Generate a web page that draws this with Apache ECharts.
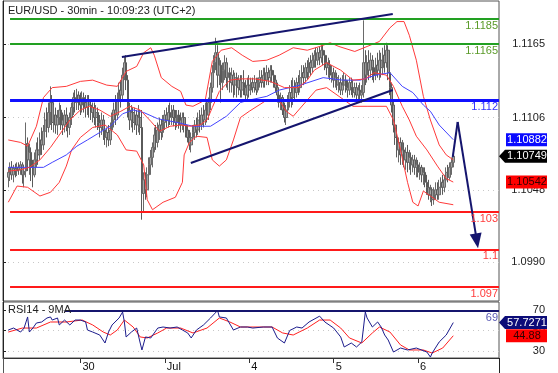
<!DOCTYPE html>
<html><head><meta charset="utf-8">
<script src="https://cdn.jsdelivr.net/npm/echarts@6/dist/echarts.min.js"></script>
<style>html,body{margin:0;padding:0;background:#fff}#c{width:558px;height:373px}</style>
</head><body><div id="c"></div>
<script>
// ---------- DATA ----------
const firstBar = 3; // bar index of first candle (30-min bars)
// candles: [open, close, low, high]
const candles = [
[1.1058,1.1062,1.1050,1.1066],[1.1062,1.1066,1.1055,1.1070],[1.1066,1.1060,1.1056,1.1071],[1.1060,1.1065,1.1054,1.1068],
[1.1065,1.1063,1.1058,1.1069],[1.1063,1.1066,1.1059,1.1070],[1.1066,1.1064,1.1060,1.1070],[1.1064,1.1068,1.1060,1.1071],
[1.1068,1.1060,1.1053,1.1070],[1.1060,1.1063,1.1050,1.1066],[1.1063,1.1085,1.1058,1.1102],[1.1085,1.1072,1.1063,1.1090],
[1.1072,1.1078,1.1060,1.1085],[1.1078,1.1066,1.1055,1.1082],[1.1066,1.1060,1.1050,1.1072],[1.1060,1.1072,1.1058,1.1078],
[1.1072,1.1080,1.1066,1.1086],[1.1080,1.1076,1.1068,1.1090],[1.1076,1.1088,1.1072,1.1094],[1.1088,1.1084,1.1076,1.1098],
[1.1084,1.1095,1.1080,1.1100],[1.1095,1.1104,1.1088,1.1110],[1.1104,1.1098,1.1090,1.1114],[1.1098,1.1110,1.1094,1.1118],
[1.1110,1.1118,1.1100,1.1131],[1.1118,1.1102,1.1096,1.1124],[1.1102,1.1108,1.1094,1.1116],[1.1108,1.1100,1.1093,1.1114],
[1.1100,1.1106,1.1092,1.1112],[1.1106,1.1112,1.1100,1.1118],[1.1112,1.1104,1.1096,1.1116],[1.1104,1.1100,1.1092,1.1110],
[1.1100,1.1108,1.1094,1.1112],[1.1108,1.1102,1.1095,1.1114],[1.1102,1.1098,1.1090,1.1108],[1.1098,1.1106,1.1092,1.1110],
[1.1106,1.1114,1.1100,1.1118],[1.1114,1.1122,1.1108,1.1126],[1.1122,1.1118,1.1110,1.1128],[1.1118,1.1124,1.1112,1.1129],
[1.1124,1.1120,1.1112,1.1127],[1.1120,1.1116,1.1108,1.1126],[1.1116,1.1122,1.1110,1.1127],[1.1122,1.1118,1.1110,1.1126],
[1.1118,1.1114,1.1106,1.1124],[1.1114,1.1120,1.1108,1.1124],[1.1120,1.1116,1.1106,1.1124],[1.1116,1.1110,1.1104,1.1120],
[1.1110,1.1114,1.1102,1.1118],[1.1114,1.1106,1.1100,1.1118],[1.1106,1.1110,1.1098,1.1116],[1.1110,1.1102,1.1096,1.1114],
[1.1102,1.1098,1.1090,1.1108],[1.1098,1.1104,1.1092,1.1110],[1.1104,1.1096,1.1088,1.1108],[1.1096,1.1090,1.1084,1.1100],
[1.1090,1.1094,1.1082,1.1098],[1.1094,1.1088,1.1083,1.1100],[1.1088,1.1096,1.1084,1.1102],[1.1096,1.1104,1.1090,1.1110],
[1.1104,1.1112,1.1098,1.1118],[1.1112,1.1108,1.1100,1.1124],[1.1108,1.1120,1.1104,1.1126],[1.1120,1.1128,1.1112,1.1134],
[1.1128,1.1124,1.1114,1.1136],[1.1124,1.1140,1.1120,1.1146],[1.1140,1.1150,1.1136,1.1155],[1.1150,1.1136,1.1128,1.1156],
[1.1136,1.1112,1.1106,1.1140],[1.1112,1.1104,1.1096,1.1118],[1.1104,1.1110,1.1098,1.1116],[1.1110,1.1102,1.1094,1.1114],
[1.1102,1.1108,1.1096,1.1114],[1.1108,1.1100,1.1092,1.1112],[1.1100,1.1106,1.1094,1.1116],[1.1106,1.1098,1.1092,1.1112],
[1.1098,1.1045,1.1024,1.1112],[1.1045,1.1056,1.1030,1.1062],[1.1056,1.1048,1.1040,1.1062],[1.1048,1.1060,1.1042,1.1066],
[1.1060,1.1068,1.1050,1.1074],[1.1068,1.1074,1.1060,1.1080],[1.1074,1.1082,1.1066,1.1086],[1.1082,1.1092,1.1078,1.1098],
[1.1092,1.1086,1.1080,1.1100],[1.1086,1.1096,1.1082,1.1102],[1.1096,1.1100,1.1088,1.1106],[1.1100,1.1094,1.1088,1.1104],
[1.1094,1.1102,1.1090,1.1108],[1.1102,1.1108,1.1096,1.1112],[1.1108,1.1104,1.1098,1.1114],[1.1104,1.1110,1.1098,1.1116],
[1.1110,1.1106,1.1100,1.1118],[1.1106,1.1112,1.1100,1.1116],[1.1112,1.1106,1.1099,1.1116],[1.1106,1.1102,1.1096,1.1112],
[1.1102,1.1108,1.1098,1.1112],[1.1108,1.1104,1.1097,1.1112],[1.1104,1.1100,1.1094,1.1110],[1.1100,1.1106,1.1096,1.1110],
[1.1106,1.1100,1.1094,1.1110],[1.1100,1.1096,1.1090,1.1104],[1.1096,1.1090,1.1086,1.1100],[1.1090,1.1084,1.1080,1.1096],
[1.1084,1.1090,1.1078,1.1094],[1.1090,1.1094,1.1084,1.1100],[1.1094,1.1100,1.1088,1.1104],[1.1100,1.1096,1.1090,1.1106],
[1.1096,1.1104,1.1092,1.1110],[1.1104,1.1100,1.1094,1.1112],[1.1100,1.1108,1.1096,1.1114],[1.1108,1.1104,1.1098,1.1116],
[1.1104,1.1112,1.1100,1.1118],[1.1112,1.1108,1.1102,1.1120],[1.1108,1.1118,1.1104,1.1122],[1.1118,1.1130,1.1112,1.1134],
[1.1130,1.1142,1.1126,1.1148],[1.1142,1.1150,1.1136,1.1156],[1.1150,1.1158,1.1144,1.1170],[1.1158,1.1140,1.1130,1.1164],
[1.1140,1.1148,1.1132,1.1154],[1.1148,1.1134,1.1118,1.1152],[1.1134,1.1144,1.1128,1.1150],[1.1144,1.1150,1.1136,1.1156],
[1.1150,1.1138,1.1130,1.1154],[1.1138,1.1142,1.1128,1.1148],[1.1142,1.1134,1.1126,1.1146],[1.1134,1.1140,1.1126,1.1146],
[1.1140,1.1132,1.1122,1.1144],[1.1132,1.1138,1.1124,1.1142],[1.1138,1.1130,1.1122,1.1142],[1.1130,1.1136,1.1124,1.1140],
[1.1136,1.1128,1.1122,1.1140],[1.1128,1.1134,1.1122,1.1140],[1.1134,1.1130,1.1124,1.1144],[1.1130,1.1124,1.1120,1.1136],
[1.1124,1.1132,1.1120,1.1138],[1.1132,1.1128,1.1122,1.1140],[1.1128,1.1134,1.1124,1.1138],[1.1134,1.1130,1.1126,1.1138],
[1.1130,1.1134,1.1126,1.1140],[1.1134,1.1128,1.1124,1.1138],[1.1128,1.1134,1.1126,1.1138],[1.1134,1.1138,1.1130,1.1144],
[1.1138,1.1134,1.1130,1.1144],[1.1134,1.1140,1.1130,1.1146],[1.1140,1.1136,1.1130,1.1146],[1.1136,1.1142,1.1132,1.1148],
[1.1142,1.1138,1.1132,1.1146],[1.1138,1.1144,1.1134,1.1148],[1.1144,1.1140,1.1134,1.1148],[1.1140,1.1136,1.1130,1.1144],
[1.1136,1.1130,1.1126,1.1140],[1.1130,1.1124,1.1118,1.1134],[1.1124,1.1118,1.1114,1.1128],[1.1118,1.1122,1.1112,1.1126],
[1.1122,1.1112,1.1108,1.1124],[1.1112,1.1106,1.1102,1.1118],[1.1106,1.1112,1.1100,1.1116],[1.1112,1.1120,1.1106,1.1124],
[1.1120,1.1126,1.1114,1.1132],[1.1126,1.1122,1.1114,1.1136],[1.1122,1.1130,1.1116,1.1138],[1.1130,1.1126,1.1120,1.1136],
[1.1126,1.1134,1.1122,1.1138],[1.1134,1.1130,1.1124,1.1140],[1.1130,1.1138,1.1126,1.1144],[1.1138,1.1142,1.1132,1.1148],
[1.1142,1.1138,1.1132,1.1148],[1.1138,1.1146,1.1134,1.1150],[1.1146,1.1142,1.1136,1.1152],[1.1142,1.1150,1.1138,1.1154],
[1.1150,1.1146,1.1140,1.1156],[1.1146,1.1152,1.1142,1.1158],[1.1152,1.1156,1.1146,1.1160],[1.1156,1.1152,1.1146,1.1162],
[1.1152,1.1158,1.1148,1.1162],[1.1158,1.1154,1.1148,1.1163],[1.1154,1.1160,1.1150,1.1164],[1.1160,1.1156,1.1148,1.1165],
[1.1156,1.1150,1.1144,1.1160],[1.1150,1.1146,1.1140,1.1156],[1.1146,1.1148,1.1138,1.1154],[1.1148,1.1140,1.1136,1.1152],
[1.1140,1.1142,1.1134,1.1148],[1.1142,1.1136,1.1130,1.1146],[1.1136,1.1138,1.1130,1.1144],[1.1138,1.1132,1.1128,1.1142],
[1.1132,1.1134,1.1126,1.1140],[1.1134,1.1128,1.1124,1.1138],[1.1128,1.1132,1.1124,1.1140],[1.1132,1.1136,1.1128,1.1142],
[1.1136,1.1130,1.1126,1.1140],[1.1130,1.1128,1.1122,1.1136],[1.1128,1.1134,1.1124,1.1138],[1.1134,1.1130,1.1124,1.1138],
[1.1130,1.1126,1.1122,1.1136],[1.1126,1.1130,1.1122,1.1134],[1.1130,1.1124,1.1120,1.1134],[1.1124,1.1128,1.1120,1.1132],
[1.1128,1.1124,1.1120,1.1134],[1.1124,1.1126,1.1118,1.1132],[1.1126,1.1150,1.1122,1.1184],[1.1150,1.1140,1.1132,1.1160],
[1.1140,1.1150,1.1134,1.1156],[1.1150,1.1144,1.1136,1.1160],[1.1144,1.1152,1.1138,1.1158],[1.1152,1.1146,1.1136,1.1156],
[1.1146,1.1140,1.1134,1.1152],[1.1140,1.1148,1.1136,1.1154],[1.1148,1.1144,1.1138,1.1158],[1.1144,1.1152,1.1136,1.1160],
[1.1152,1.1146,1.1138,1.1158],[1.1146,1.1156,1.1140,1.1162],[1.1156,1.1150,1.1142,1.1164],[1.1150,1.1160,1.1146,1.1166],
[1.1160,1.1142,1.1136,1.1164],[1.1142,1.1130,1.1124,1.1146],[1.1130,1.1116,1.1110,1.1134],[1.1116,1.1100,1.1094,1.1120],
[1.1100,1.1090,1.1084,1.1106],[1.1090,1.1080,1.1074,1.1094],[1.1080,1.1086,1.1070,1.1090],[1.1086,1.1076,1.1068,1.1090],
[1.1076,1.1080,1.1068,1.1088],[1.1080,1.1072,1.1066,1.1086],[1.1072,1.1078,1.1064,1.1082],[1.1078,1.1070,1.1062,1.1084],
[1.1070,1.1074,1.1064,1.1080],[1.1074,1.1068,1.1060,1.1078],[1.1068,1.1072,1.1062,1.1076],[1.1072,1.1066,1.1060,1.1076],
[1.1066,1.1068,1.1058,1.1074],[1.1068,1.1062,1.1058,1.1072],[1.1062,1.1066,1.1056,1.1070],[1.1066,1.1060,1.1054,1.1068],
[1.1060,1.1062,1.1052,1.1066],[1.1062,1.1054,1.1050,1.1066],[1.1054,1.1050,1.1044,1.1060],[1.1050,1.1044,1.1040,1.1056],
[1.1044,1.1048,1.1038,1.1052],[1.1048,1.1040,1.1035,1.1050],[1.1040,1.1044,1.1036,1.1050],[1.1044,1.1048,1.1040,1.1054],
[1.1048,1.1044,1.1040,1.1054],[1.1044,1.1050,1.1040,1.1056],[1.1050,1.1054,1.1044,1.1058],[1.1054,1.1050,1.1044,1.1060],
[1.1050,1.1056,1.1046,1.1060],[1.1056,1.1062,1.1052,1.1066],[1.1062,1.1058,1.1054,1.1068],[1.1058,1.1066,1.1056,1.1070],
[1.1066,1.1070,1.1060,1.1074],[1.1070,1.1075,1.1066,1.1077]
];
// Bollinger bands (20) and blue moving average: [barIndex, price]
const bbUpper = [[3,1.1088],[10,1.1086],[14,1.1083],[19,1.1099],[23,1.1122],[28,1.1130],[36,1.1131],[44,1.1135],[51,1.1136],[59,1.1132],[65,1.1131],[70,1.1143],[76,1.1147],[80,1.1158],[84,1.1162],[86,1.1156],[90,1.1138],[96,1.1131],[101,1.1127],[104,1.1116],[108,1.1115],[115,1.1120],[119,1.1151],[124,1.1160],[130,1.1162],[136,1.1156],[142,1.1151],[150,1.1152],[157,1.1156],[165,1.1162],[173,1.1160],[180,1.1163],[186,1.1166],[191,1.1163],[200,1.1159],[207,1.1163],[214,1.1167],[220,1.1178],[224,1.1183],[228,1.1183],[231,1.1172],[235,1.1152],[239,1.1123],[243,1.1104],[248,1.1084],[252,1.1076],[256,1.1072]];
const bbMiddle = [[3,1.1063],[10,1.1064],[15,1.1066],[21,1.1072],[27,1.1082],[32,1.1092],[38,1.1104],[44,1.1112],[49,1.1115],[55,1.1112],[61,1.1107],[67,1.1111],[72,1.1115],[78,1.1112],[84,1.1103],[89,1.1095],[95,1.1099],[101,1.1100],[106,1.1099],[112,1.1100],[116,1.1104],[119,1.1114],[123,1.1127],[129,1.1136],[135,1.1137],[143,1.1137],[152,1.1135],[160,1.1130],[168,1.1130],[173,1.1136],[177,1.1144],[184,1.1150],[192,1.1144],[199,1.1136],[206,1.1137],[211,1.1142],[218,1.1140],[222,1.1131],[227,1.1115],[231,1.1104],[235,1.1091],[241,1.1080],[247,1.1067],[252,1.1057],[256,1.10542]];
const bbLower = [[3,1.1038],[8,1.1051],[14,1.1050],[21,1.1043],[27,1.1046],[32,1.1054],[36,1.1067],[39,1.1080],[44,1.1090],[51,1.1098],[58,1.1100],[65,1.1092],[70,1.1080],[76,1.1079],[80,1.1068],[82,1.1040],[85,1.1032],[91,1.1038],[98,1.1042],[102,1.1054],[103,1.1076],[106,1.1086],[110,1.1091],[116,1.1090],[119,1.1072],[123,1.1067],[127,1.1072],[131,1.1088],[135,1.1106],[140,1.1111],[150,1.1120],[157,1.1120],[161,1.1111],[165,1.1107],[173,1.1120],[178,1.1128],[184,1.1130],[191,1.1123],[199,1.1115],[207,1.1115],[218,1.1115],[222,1.1104],[226,1.1080],[230,1.1054],[233,1.1038],[236,1.1035],[239,1.1047],[243,1.1043],[248,1.1038],[256,1.1036]];
const maBlue = [[3,1.1066],[15,1.1066],[23,1.1066],[28,1.1070],[36,1.1076],[42,1.1083],[48,1.1088],[55,1.1094],[61,1.1099],[68,1.1109],[74,1.1112],[80,1.1110],[88,1.1105],[99,1.1102],[108,1.1099],[118,1.1099],[127,1.1107],[135,1.1118],[140,1.1120],[150,1.1123],[157,1.1128],[169,1.1132],[182,1.1138],[193,1.1136],[203,1.1136],[212,1.1140],[220,1.1142],[227,1.1131],[233,1.1126],[239,1.1116],[243,1.1111],[248,1.1100],[256,1.10882]];
// RSI(14) and its 9-period MA: [barIndex, value]
const rsi = [[3,50.5],[6,52.4],[10,48.5],[12,52.4],[14,63.2],[15,48.5],[17,52.4],[19,57.3],[22,58.3],[25,62.2],[27,63.2],[28,60.2],[31,62.2],[32,55.4],[35,60.2],[38,55.4],[41,60.2],[44,60.2],[47,58.3],[48,50.5],[51,48.5],[55,45.6],[58,37.8],[60,48.5],[62,55.4],[66,62.2],[68,68.0],[69,58.3],[70,43.7],[73,48.5],[76,52.4],[78,37.8],[79,31.0],[81,43.7],[84,42.7],[88,52.4],[91,53.4],[95,52.4],[99,53.4],[102,50.5],[105,47.6],[107,42.7],[110,50.5],[114,55.4],[118,62.2],[122,69.5],[123,63.2],[127,62.2],[131,50.5],[135,53.4],[139,53.4],[142,52.4],[148,53.4],[153,53.4],[156,42.7],[160,37.8],[163,50.0],[167,53.4],[170,52.4],[174,58.3],[180,64.0],[183,58.3],[188,52.4],[192,43.7],[194,33.9],[198,37.8],[201,33.9],[204,38.8],[206,68.0],[207,62.2],[210,53.4],[213,58.3],[215,53.4],[217,45.6],[219,40.7],[222,29.0],[226,32.9],[230,31.0],[235,32.9],[241,29.0],[243,24.1],[244,28.0],[248,38.8],[252,45.6],[256,57.7271]];
const rsiMa = [[3,48.5],[11,52.4],[19,52.4],[27,58.3],[36,58.3],[45,60.2],[51,55.4],[57,48.5],[61,45.6],[65,50.5],[69,60.2],[74,53.4],[78,43.7],[82,42.7],[88,47.6],[93,52.4],[101,52.4],[108,47.6],[116,52.4],[123,62.2],[129,58.3],[135,53.4],[146,53.4],[153,53.4],[159,47.6],[165,45.6],[173,52.4],[180,60.2],[186,60.2],[192,52.4],[197,42.7],[204,37.8],[210,47.6],[214,53.4],[220,48.5],[226,35.9],[231,31.0],[239,31.0],[244,28.0],[250,32.9],[256,44.88]];
// horizontal levels
const levels = [1.1185, 1.1165, 1.112, 1.103, 1.1, 1.097];
const levelLabels = ['1.1185', '1.1165', '1.112', '1.103', '1.1', '1.097'];
const rsiLevel = 69;
// drawn trend lines / projection arrow: [barIndex, price]
const channelTop = [[67.6, 1.11546], [221.6, 1.11891]];
const channelBottom = [[106.8, 1.10695], [221.6, 1.11281]];
const projection = [[255.7, 1.10743], [258.5, 1.11024], [269.4, 1.10070]];
// last values tags
const lastMa = 1.10882, lastClose = 1.10749, lastMid = 1.10542;
const lastRsi = 57.7271, lastRsiMa = 44.88;
// axes
const priceTicks = [1.1165, 1.1106, 1.1048, 1.0990];
const rsiTicks = [30, 50, 70];
const dayTicks = [44, 92, 140, 188, 236];
const dayLabels = ['30', 'Jul', '4', '5', '6'];
const xMax = 282;

// ---------- CHART ----------
const FONT = '"Liberation Sans", Arial, sans-serif';
const chart = echarts.init(document.getElementById('c'));
const ohlc = candles.map((r, k) => [firstBar + k, r[0], r[1], r[2], r[3]]);
const lvlLine = ['#22a022', '#22a022', '#1010ff', '#ff1a1a', '#ff1a1a', '#ff1a1a'];
const lvlText = ['#5a9a28', '#5a9a28', '#3333ff', '#ff3c3c', '#ff3c3c', '#ff3c3c'];
const lvlWidth = [2, 2, 3, 2, 2, 2];
const navy = '#15156e';

const levelMarks = levels.map((v, k) => [
  { coord: [4, v], lineStyle: { color: lvlLine[k], width: lvlWidth[k], type: 'solid' },
    label: { show: true, formatter: levelLabels[k], position: 'insideEndBottom', color: lvlText[k],
             fontSize: 11, fontFamily: FONT, distance: [1, 1] } },
  { coord: [xMax, v] }
]);
const drawMarks = [
  [{ coord: channelTop[0], lineStyle: { color: navy, width: 2, type: 'solid' }, label: { show: false } }, { coord: channelTop[1] }],
  [{ coord: channelBottom[0], lineStyle: { color: navy, width: 2, type: 'solid' }, label: { show: false } }, { coord: channelBottom[1] }],
  [{ coord: projection[0], lineStyle: { color: navy, width: 2, type: 'solid' }, label: { show: false } }, { coord: projection[1] }],
  [{ coord: projection[1], lineStyle: { color: navy, width: 2, type: 'solid' }, label: { show: false }, symbol: 'none' },
   { coord: projection[2], symbol: 'triangle', symbolSize: [12, 15] }]
];

const lineS = (name, data, color, xi, yi, z) => ({
  name, type: 'line', data, xAxisIndex: xi, yAxisIndex: yi, showSymbol: false, symbol: 'none',
  lineStyle: { color, width: 1 }, itemStyle: { color }, z, silent: true, animation: false
});

const axLabel = { fontSize: 11, fontFamily: FONT, color: '#222' };
chart.setOption({
  animation: false,
  backgroundColor: '#fff',
  title: [
    { text: 'EUR/USD - 30min - 10:09:23 (UTC+2)', left: 8, top: 5, padding: 0,
      textStyle: { fontSize: 11, fontWeight: 'normal', color: '#222', fontFamily: FONT } },
    { text: 'RSI14 - 9MA', left: 8, top: 304, padding: 0,
      textStyle: { fontSize: 11, fontWeight: 'normal', color: '#222', fontFamily: FONT } }
  ],
  grid: [
    { left: 3, right: 59, top: 1, height: 300, show: true, borderColor: '#555', borderWidth: 1 },
    { left: 3, right: 59, top: 302, height: 56, show: true, borderColor: '#555', borderWidth: 1 }
  ],
  xAxis: [
    { type: 'value', gridIndex: 0, min: 0, max: xMax, show: false },
    { type: 'value', gridIndex: 1, min: 0, max: xMax,
      axisLine: { show: true, lineStyle: { color: '#333' } },
      axisTick: { show: true, customValues: dayTicks, length: 5, lineStyle: { color: '#333' } },
      axisLabel: Object.assign({ customValues: dayTicks, align: 'left', padding: [0, 0, 0, 2], margin: 3,
        formatter: v => dayLabels[dayTicks.indexOf(v)] }, axLabel, { color: '#111' }),
      splitLine: { show: false } }
  ],
  yAxis: [
    { type: 'value', gridIndex: 0, position: 'right', min: 1.095874, max: 1.119951,
      axisLine: { show: true, lineStyle: { color: '#222' } },
      axisTick: { show: true, customValues: priceTicks, length: 3, lineStyle: { color: '#222' } },
      axisLabel: Object.assign({ customValues: priceTicks, align: 'right', margin: 46, formatter: v => v.toFixed(4) }, axLabel),
      splitLine: { show: true, lineStyle: { color: '#c8c8c8', type: [1, 4] } } },
    { type: 'value', gridIndex: 1, position: 'right', min: 23.17, max: 77.8,
      axisLine: { show: true, lineStyle: { color: '#222' } },
      axisTick: { show: true, customValues: rsiTicks, length: 3, lineStyle: { color: '#222' } },
      axisLabel: Object.assign({ customValues: rsiTicks, align: 'right', margin: 46, formatter: v => String(v) }, axLabel),
      splitLine: { show: true, lineStyle: { color: '#c8c8c8', type: [1, 4] } } }
  ],
  series: [
    { name: 'EUR/USD', type: 'candlestick', data: ohlc, encode: { x: 0, y: [1, 2, 3, 4] },
      xAxisIndex: 0, yAxisIndex: 0, barWidth: 2.2, z: 2, silent: true,
      itemStyle: { color: '#a6a6a6', color0: '#999999', borderColor: '#6a6a6a', borderColor0: '#5a5a5a', borderWidth: 1 } },
    lineS('BB upper', bbUpper, '#ff3a3a', 0, 0, 3),
    lineS('BB lower', bbLower, '#ff3a3a', 0, 0, 3),
    lineS('MA', maBlue, '#4444ff', 0, 0, 3),
    Object.assign(lineS('BB middle', bbMiddle, '#ff3a3a', 0, 0, 4), {
      markLine: { silent: true, symbol: 'none', animation: false, data: levelMarks.concat(drawMarks) }
    }),
    lineS('RSI MA', rsiMa, '#ff2020', 1, 1, 3),
    Object.assign(lineS('RSI', rsi, '#1c1c8c', 1, 1, 4), {
      markLine: { silent: true, symbol: 'none', animation: false, data: [[
        { coord: [35, rsiLevel], lineStyle: { color: navy, width: 2, type: 'solid' },
          label: { show: true, formatter: String(rsiLevel), position: 'insideEndBottom', color: '#5a5ab4',
                   fontSize: 11, fontFamily: FONT, distance: [1, 1] } },
        { coord: [xMax, rsiLevel] }]] }
    })
  ]
});

// value tags on the right axis, placed through the axis scales
function tag(yAxisIndex, value, text, fill, textFill, arrow) {
  const y = chart.convertToPixel({ yAxisIndex }, value);
  const shape = arrow
    ? { type: 'polygon', shape: { points: [[499, y], [505, y - 6.5], [547, y - 6.5], [547, y + 6.5], [505, y + 6.5]] }, style: { fill }, z: 100 }
    : { type: 'rect', shape: { x: 506, y: y - 6.5, width: 41, height: 13 }, style: { fill }, z: 100 };
  return [shape, { type: 'text', x: 527, y: y, z: 101,
    style: { text, fill: textFill, font: '11px ' + FONT, align: 'center', verticalAlign: 'middle',
             textAlign: 'center', textVerticalAlign: 'middle' } }];
}
const frameLines = [
  { type: 'line', shape: { x1: 3.5, y1: 358, x2: 3.5, y2: 373 }, style: { stroke: '#555', lineWidth: 1 }, z: 90 },
  { type: 'line', shape: { x1: 499.5, y1: 358, x2: 499.5, y2: 373 }, style: { stroke: '#222', lineWidth: 1 }, z: 90 }
];
chart.setOption({
  graphic: [].concat(
    frameLines,
    tag(0, lastMa, lastMa.toFixed(5), '#0a0aff', '#fff', false),
    tag(0, lastClose, lastClose.toFixed(5), '#000', '#fff', true),
    tag(0, lastMid, lastMid.toFixed(5), '#ff0000', '#300', false),
    tag(1, lastRsi, lastRsi.toFixed(4), '#0c0c78', '#fff', true),
    tag(1, lastRsiMa, lastRsiMa.toFixed(2), '#ff0000', '#300', false)
  )
});
</script></body></html>
